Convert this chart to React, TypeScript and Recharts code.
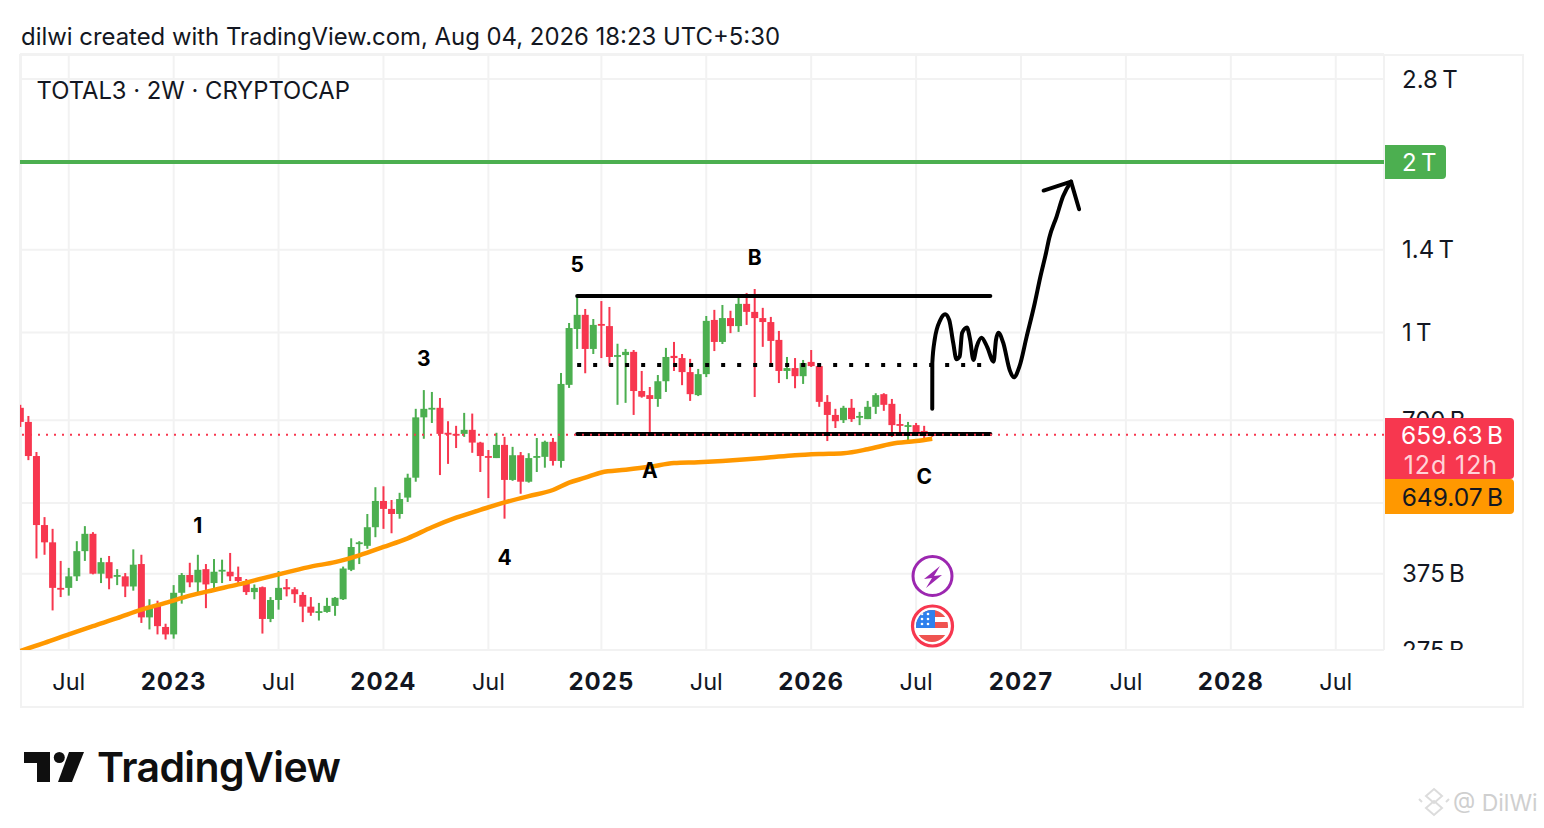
import { Bar, CartesianGrid, ComposedChart, Label, Line, ReferenceDot, ReferenceLine, XAxis, YAxis } from 'recharts';

// candles, in billions
const highs = [745,712,615,472,450,395,384,428,455,444,
  400,403,382,376,414,405,338,336,306,358,
  376,392,405,390,398,397,408,386,367,359,
  356,341,379,367,355,348,341,333,340,341,
  386,433,428,478,533,535,506,521,563,733,
  791,785,766,697,684,721,719,641,620,665,
  654,628,615,612,651,644,651,848,1039,1160,
  1100,1056,1136,1109,955,935,931,855,801,841,
  939,962,916,898,862,1069,1096,1118,1092,1160,
  1174,1193,1105,1065,1006,905,901,894,931,876,
  775,733,742,763,724,757,781,781,763,718,
  695,692,684,665];
const lows = [681,595,399,405,323,341,343,364,395,374,
  361,352,358,341,350,307,299,293,287,288,
  332,355,348,326,352,361,364,361,344,338,
  294,308,324,342,333,308,316,310,320,316,
  337,379,390,415,435,450,442,469,502,545,
  649,692,560,586,625,654,613,567,510,600,
  469,547,519,543,567,577,582,577,798,935,
  847,916,901,872,745,751,715,767,665,739,
  785,855,807,757,772,834,927,954,997,1002,
  1031,769,943,872,814,827,797,811,869,739,
  643,678,692,695,686,703,718,727,654,659,
  641,660,651,654];
const opens = [736,695,605,457,426,354,354,371,411,441,
  375,393,371,371,356,390,314,329,302,293,
  347,373,362,382,361,379,378,370,364,348,
  355,312,337,355,352,344,328,321,321,329,
  338,381,425,420,453,504,488,478,511,554,
  708,733,736,665,662,662,673,639,605,600,
  633,549,607,545,603,603,641,593,808,1014,
  1074,935,1035,1026,909,912,924,788,775,763,
  820,909,901,851,775,844,1052,962,1060,1026,
  1123,1087,1060,1043,970,855,865,837,887,872,
  754,715,700,736,709,703,739,778,748,689,
  681,686,670,663];
const closes = [695,605,457,426,354,352,371,411,441,375,
  393,368,373,356,389,314,329,303,293,347,
  373,362,381,359,378,381,371,364,348,354,
  312,337,354,352,345,328,320,322,329,340,
  383,418,426,453,504,488,478,508,554,708,
  733,736,662,660,660,673,639,605,603,633,
  549,607,545,600,605,641,593,811,1018,1074,
  935,1031,1031,905,912,924,788,770,763,820,
  905,901,851,778,844,1048,962,1060,1026,1123,
  1087,1060,1043,966,855,865,837,883,872,754,
  715,697,736,703,712,739,775,745,686,686,
  686,665,665,659.63];

// moving average
const emaIndex = [0,3,6,9,12,15,18,21,24,27,30,33,36,39,42,45,48,51,54,57,60,63,66,68,70,72,75,78,81,84,87,90,93,96,99,102,105,108,111,113];
const emaValues = [274,283,293,303,313,324,333,343,351,359,368,377,386,393,404,418,433,453,471,486,501,514,527,543,554,566,572,579,588,590,593,597,602,607,610,612,622,636,643,649.07];

// hand drawn projection
const sketchIndex = [113,113.01,113.3,114,114.6,115.1,115.6,116,116.4,116.7,117.3,117.7,118.1,118.5,119.1,119.8,120.6,120.9,121.2,121.8,122.6,123.1,123.8,124.7,125.7,126.4,127.1,127.5,128.4,129.2,130.2];
const sketchValues = [733,883,970,1052,1077,1052,958,897,907,998,1020,970,894,943,979,943,888,970,999,958,858,833,870,983,1126,1254,1381,1468,1600,1737,1846];
const arrowIndex = [126.8,130.2,131.2];
const arrowValues = [1780,1846,1650];

const timeTicks = [6,19,32,45,58,72,85,98,111,124,137,150,163];
const timeLabels = ['Jul','2023','Jul','2024','Jul','2025','Jul','2026','Jul','2027','Jul','2028','Jul'];
const priceTicks = [275,375,500,700,1000,1400,2000,2800];
// 500 B and 2 T sit behind the price tags, only their grid lines show
const priceLabels = ['275\u202fB','375\u202fB','','700\u202fB','1\u202fT','1.4\u202fT','','2.8\u202fT'];

const waveLabels = ['1','3','4','5','A','B','C'];
const waveIndex = [22,50,60,69,78,91,112];
const waveValues = [457,901,401,1320,570,1354,557];

const GREEN = '#4caf50';
const RED = '#f7374f';
const ORANGE = '#ff9800';
const TEXT = '#131722';
const GRID = '#f2f2f2';
const FONT = 'Inter, "Noto Sans", sans-serif';

const candles = highs.map((_, i) => ({ i, open: opens[i], high: highs[i], low: lows[i], close: closes[i] }));
const ema = emaIndex.map((i, n) => ({ i, v: emaValues[n] }));
const sketch = sketchIndex.map((i, n) => ({ i, v: sketchValues[n] }));
const arrow = arrowIndex.map((i, n) => ({ i, v: arrowValues[n] }));

function Candle(props: any) {
  const { x, y, width, height, payload } = props;
  const { open, high, low, close } = payload;
  const color = close >= open ? GREEN : RED;
  // the bar spans low..high on the log scale, so place the body inside it
  const span = Math.log(high / low) || 1;
  const top = y + (height * Math.log(high / Math.max(open, close))) / span;
  const bottom = y + (height * Math.log(high / Math.min(open, close))) / span;
  const cx = x + width / 2;
  return (
    <g>
      <rect x={cx - 1} y={y} width={2} height={height} fill={color} />
      <rect x={cx - 3.5} y={top} width={7} height={Math.max(bottom - top, 1.8)} fill={color} />
    </g>
  );
}

function TimeTick({ x, y, payload }: any) {
  const label = timeLabels[timeTicks.indexOf(payload.value)];
  const isYear = label !== 'Jul';
  return (
    <text x={x} y={y + 23} textAnchor="middle" dominantBaseline="central" fontFamily={FONT}
      fontSize={isYear ? 24 : 23.5} fontWeight={isYear ? 700 : 400} letterSpacing={isYear ? 1 : 0} fill={TEXT}>
      {label}
    </text>
  );
}

function PriceTick({ x, y, payload }: any) {
  return (
    <text x={x + 10} y={y} dominantBaseline="central" fontFamily={FONT} fontSize={24} fill={TEXT} clipPath="url(#axisClip)">
      {priceLabels[priceTicks.indexOf(payload.value)]}
    </text>
  );
}

function Tag({ left, top, width, height, bg, children }: any) {
  return (
    <div style={{ position: 'absolute', left, top, width, height, background: bg, borderRadius: '0 4px 4px 0', fontFamily: FONT }}>
      {children}
    </div>
  );
}

export default function App() {
  return (
    <div style={{ position: 'absolute', left: 0, top: 0, width: 1544, height: 828, background: '#fff', overflow: 'hidden' }}>
      <div style={{ position: 'absolute', left: 21, top: 22, fontFamily: FONT, fontSize: 23.9, color: TEXT, whiteSpace: 'nowrap' }}>
        dilwi created with TradingView.com, Aug 04, 2026 18:23 UTC+5:30
      </div>

      <div style={{ position: 'absolute', left: 20, top: 54, width: 1504, height: 654, boxSizing: 'border-box', border: `2px solid ${GRID}` }} />

      <div style={{ position: 'absolute', left: 0, top: 0 }}>
        <ComposedChart width={1544} height={828} data={candles} margin={{ top: 54, right: 20, bottom: 121, left: 20 }}>
          <defs>
            <clipPath id="axisClip">
              <rect x={1384} y={54} width={140} height={596} />
            </clipPath>
          </defs>
          <CartesianGrid stroke={GRID} strokeWidth={2} />
          <XAxis dataKey="i" type="number" domain={[-0.04, 168.98]} allowDataOverflow ticks={timeTicks} interval={0}
            height={57} axisLine={false} tickLine={false} tick={<TimeTick />} />
          <YAxis orientation="right" scale="log" domain={[275, 3101]} allowDataOverflow ticks={priceTicks} interval={0}
            width={140} axisLine={false} tickLine={false} tick={<PriceTick />} />

          <ReferenceLine y={2000} stroke={GREEN} strokeWidth={4} />
          <Bar dataKey={(d: any) => [d.low, d.high]} barSize={7} shape={<Candle />} isAnimationActive={false} />
          <Line data={ema} dataKey="v" dot={false} stroke={ORANGE} strokeWidth={4.5} type="monotone" isAnimationActive={false} />

          <ReferenceLine segment={[{ x: 69, y: 1160 }, { x: 120.2, y: 1160 }]} stroke="#000" strokeWidth={4} strokeLinecap="round" />
          <ReferenceLine segment={[{ x: 69, y: 662 }, { x: 120.2, y: 662 }]} stroke="#000" strokeWidth={4} strokeLinecap="round" />
          <ReferenceLine segment={[{ x: 69, y: 876 }, { x: 120.2, y: 876 }]} stroke="#000" strokeWidth={4} strokeDasharray="4 12" />
          <ReferenceLine y={659.63} stroke={RED} strokeWidth={2} strokeDasharray="2 6" />

          <Line data={sketch} dataKey="v" dot={false} stroke="#000" strokeWidth={4} type="monotone" strokeLinejoin="round" strokeLinecap="round" isAnimationActive={false} />
          <Line data={arrow} dataKey="v" dot={false} stroke="#000" strokeWidth={4} type="linear" strokeLinejoin="round" strokeLinecap="round" isAnimationActive={false} />

          {waveLabels.map((w, n) => (
            <ReferenceDot key={w} x={waveIndex[n]} y={waveValues[n]} r={0} fill="none" stroke="none">
              <Label value={w} position="center" fontFamily={FONT} fontSize={21} fontWeight={700} fill="#000" />
            </ReferenceDot>
          ))}
        </ComposedChart>
      </div>

      <div style={{ position: 'absolute', left: 36.5, top: 76, fontFamily: FONT, fontSize: 23.8, color: TEXT, whiteSpace: 'nowrap' }}>
        TOTAL3 · 2W · CRYPTOCAP
      </div>

      <Tag left={1385} top={145} width={61} height={34} bg={GREEN}>
        <div style={{ color: '#fff', fontSize: 24, paddingLeft: 17, lineHeight: '35px' }}>2{'\u202f'}T</div>
      </Tag>
      <Tag left={1385} top={418} width={129} height={61} bg={RED}>
        <div style={{ color: '#fff', fontSize: 24.5, textAlign: 'right', paddingRight: 11, lineHeight: '32px', marginTop: 1 }}>659.63{'\u202f'}B</div>
        <div style={{ color: '#ffd3d8', fontSize: 25, letterSpacing: 0.9, textAlign: 'right', paddingRight: 16, lineHeight: '28px' }}>12d 12h</div>
      </Tag>
      <Tag left={1385} top={479} width={129} height={35} bg={ORANGE}>
        <div style={{ color: TEXT, fontSize: 24.5, textAlign: 'right', paddingRight: 11, lineHeight: '37px' }}>649.07{'\u202f'}B</div>
      </Tag>

      {/* event markers */}
      <svg style={{ position: 'absolute', left: 905, top: 550 }} width={56} height={104}>
        <defs>
          <clipPath id="flagClip"><circle cx={27} cy={76} r={16} /></clipPath>
        </defs>
        <circle cx={27.5} cy={26} r={19.5} fill="#fff" stroke="#9c27b0" strokeWidth={3} />
        <path d="M35 16 L19 29 L27 28 L21 38 L37 25 L29 26 Z" fill="#9c27b0" />
        <circle cx={27.5} cy={76} r={20} fill="#fff" stroke={RED} strokeWidth={3.2} />
        <g clipPath="url(#flagClip)">
          <rect x={10} y={60} width={36} height={7} fill="#ef5350" />
          <rect x={10} y={72} width={36} height={6} fill="#ef5350" />
          <rect x={10} y={85} width={36} height={7} fill="#ef5350" />
          <rect x={11} y={60} width={19} height={18} fill="#2f80ed" />
          <circle cx={17} cy={64} r={1.3} fill="#fff" />
          <circle cx={23} cy={64} r={1.3} fill="#fff" />
          <circle cx={17} cy={69} r={1.3} fill="#fff" />
          <circle cx={23} cy={69} r={1.3} fill="#fff" />
          <circle cx={17} cy={74} r={1.3} fill="#fff" />
          <circle cx={23} cy={74} r={1.3} fill="#fff" />
        </g>
      </svg>

      {/* logo */}
      <svg style={{ position: 'absolute', left: 0, top: 740 }} width={96} height={50}>
        <path d="M24 12 H50 V42 H37 V23 H24 Z" fill="#0f0f0f" />
        <circle cx={59.3} cy={17.5} r={5.5} fill="#0f0f0f" />
        <path d="M69 12 H84 L72 42 H58 Z" fill="#0f0f0f" />
      </svg>
      <div style={{ position: 'absolute', left: 97, top: 742, fontFamily: FONT, fontSize: 41, fontWeight: 600, color: '#0f0f0f', letterSpacing: -0.6, whiteSpace: 'nowrap' }}>
        TradingView
      </div>

      {/* watermark */}
      <svg style={{ position: 'absolute', left: 1418, top: 786 }} width={34} height={34}>
        <g fill="none" stroke="#dcdcdc" strokeWidth={2}>
          <path d="M16 3 L24 10 L16 17 L8 10 Z" />
          <path d="M16 15 L24 22 L16 29 L8 22 Z" />
          <path d="M4 16 L1 13 M28 16 L31 13" />
        </g>
      </svg>
      <div style={{ position: 'absolute', left: 1453, top: 789, fontFamily: FONT, fontSize: 23, color: '#cfcfcf', whiteSpace: 'nowrap' }}>
        @ DilWi
      </div>
    </div>
  );
}
